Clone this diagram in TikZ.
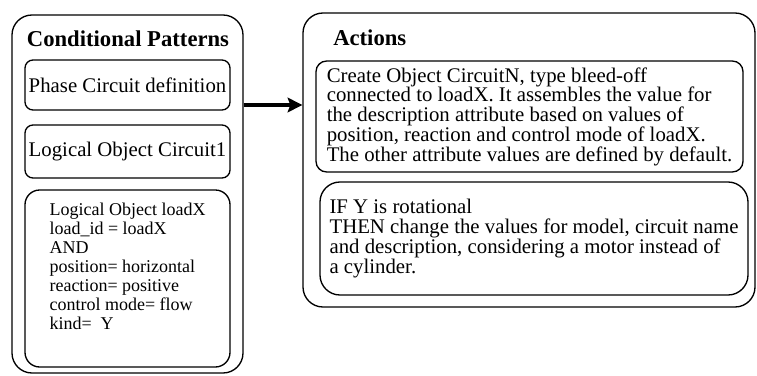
\documentclass[tikz,border=0pt]{standalone}
\usepackage{fontspec}
\setmainfont{Liberation Serif}
\usetikzlibrary{positioning,calc,arrows.meta}

\begin{document}
\begin{tikzpicture}[x=0.75pt, y=-0.75pt,
    frame/.style={rectangle, draw, line width=1pt, rounded corners=15pt},
    box/.style={rectangle, draw, line width=1pt, align=left, inner sep=0pt, font=\fontsize{15.6}{14.8}\selectfont},
    small/.style={font=\fontsize{13.5}{14.25}\selectfont},
    title/.style={inner sep=0pt, font=\fontsize{17}{18}\selectfont\bfseries},
    arrow/.style={-{Stealth[length=11pt, width=11pt, inset=2pt]}, line width=3.5pt}
]
\useasboundingbox (0,0) rectangle (757,375);

\node[frame, minimum width=173.25pt, minimum height=268.5pt] (patterns) at (127.5,194) {};
\node[frame, minimum width=339pt, minimum height=220.5pt] (actions) at (529,160) {};

\node[title] (ptitle) at (128,39) {Conditional Patterns};
\node[title, anchor=west] (atitle) at (333,38) {Actions};

\node[box, rounded corners=6pt, minimum width=153.75pt, minimum height=37.5pt] (phase) at (127.5,85) {Phase Circuit definition};
\node[box, rounded corners=6pt, minimum width=153.75pt, minimum height=39.75pt] (circuit) at (127.5,151.5) {Logical Object Circuit1};
\node[box, small, rounded corners=11pt, minimum width=153.75pt, minimum height=132.75pt] (loadx) at (127.5,278.5) {Logical Object loadX\\
load\_id = loadX\\
AND\\
position= horizontal\\
reaction= positive\\
control mode= flow\\
kind=\ \ Y\rule[-18pt]{0pt}{0pt}};

\node[box, rounded corners=8pt, minimum width=320.25pt, minimum height=83.25pt] (create) at (529.5,116.5) {Create Object CircuitN, type bleed-off\\
connected to loadX. It assembles the value for\\
the description attribute based on values of\\
position, reaction and control mode of loadX.\\
The other attribute values are defined by default.};
\node[box, rounded corners=15pt, minimum width=321pt, minimum height=84.75pt] (rotational) at (534,238.5) {IF Y is rotational\\
THEN change the values for model, circuit name\\
and description, considering a motor instead of\\
a cylinder.};

\draw[arrow] (patterns.east |- 0,105) -- (actions.west |- 0,105);

\end{tikzpicture}
\end{document}
